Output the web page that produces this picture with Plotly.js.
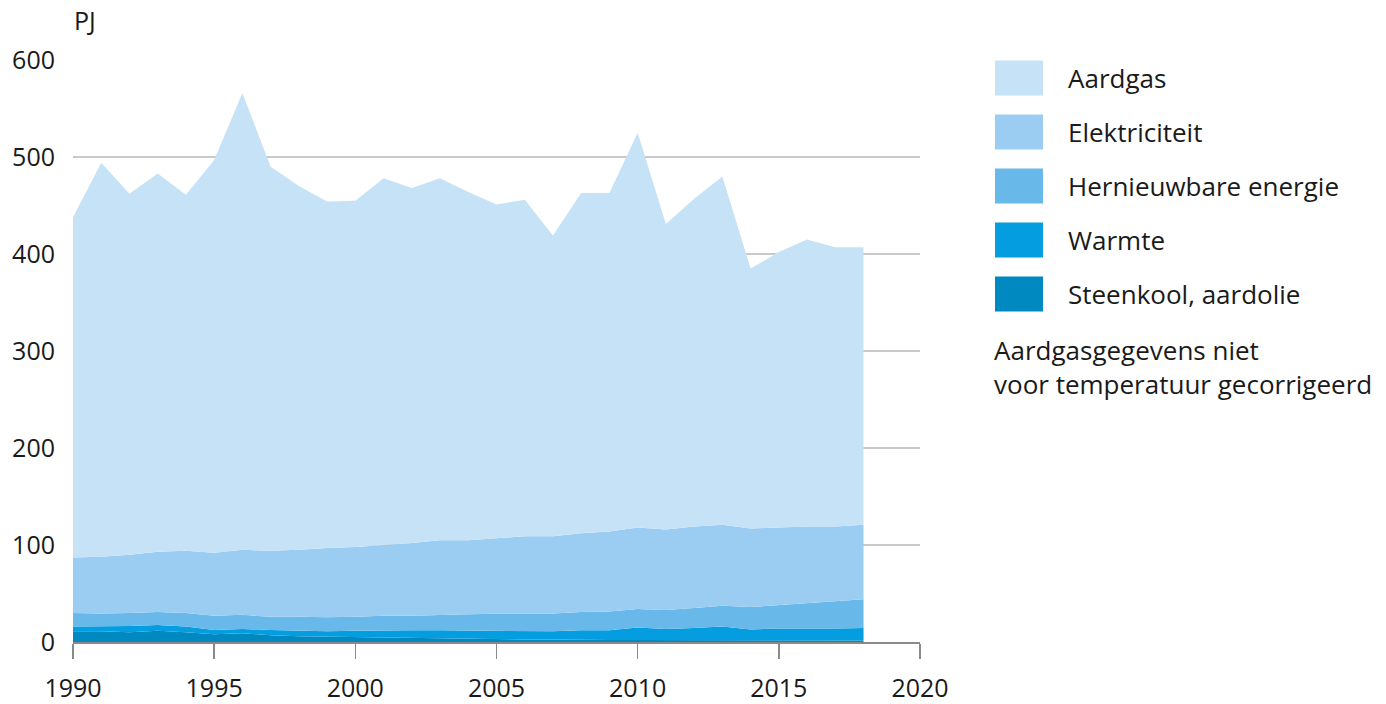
<!DOCTYPE html>
<html>
<head>
<meta charset="utf-8">
<script src="https://cdn.plot.ly/plotly-3.0.1.min.js"></script>
<style>
  html, body { margin: 0; padding: 0; background: #ffffff; }
  #chart { width: 1386px; height: 704px; }
</style>
</head>
<body>
<div id="chart"></div>
<script>
// Years
const years = [1990,1991,1992,1993,1994,1995,1996,1997,1998,1999,2000,2001,2002,2003,2004,2005,2006,2007,2008,2009,2010,2011,2012,2013,2014,2015,2016,2017,2018];

// Series values (PJ), individual layer contributions (stacked bottom -> top)
const steenkool = [11,11,10,11.5,10,8,9,7,6,5.5,5,4.5,4,3.5,3,3,2.5,2.5,2,2,2,2,1.5,1.5,1.5,1.5,1.5,1.5,1.5];
const warmte = [5,5,6.5,6,6,4.5,4.5,5.5,5.8,5.5,6.5,7.5,8,8.5,8.8,8.5,9,8.5,10,10,13,11.5,13,14.5,11.5,12.5,12.5,12.3,13];
const hernieuwbaar = [14,13.5,13.5,13.5,14,14.5,14.5,13.5,14.2,14.5,14.5,15,15,16,16.7,17.5,18,18.5,19,19.5,19,19.5,20.5,21.5,23,24,26,28.2,29.5];
const elektriciteit = [57,58.5,60,62,64,65,67,68,69,71.5,72,73,75,77,76.5,78,79.5,79.5,81,82.5,84,83,84,83.5,81,80,79,77,77];
const aardgas = [351,406,372,390,367,405,471,396,375,357,357,378,366,373,359,344,347,310,351,349,407,315,338,359,268,284,296,288,286];

// Legend / category labels (top to bottom as in legend)
const seriesNames = ["Aardgas", "Elektriciteit", "Hernieuwbare energie", "Warmte", "Steenkool, aardolie"];
const seriesColors = ["#c6e2f7", "#9bcdf2", "#68b8ea", "#049de0", "#0088c0"];
const seriesData = [aardgas, elektriciteit, hernieuwbaar, warmte, steenkool];

const yTicks = [0,100,200,300,400,500,600];
const xTicks = [1990,1995,2000,2005,2010,2015,2020];
const unitLabel = "PJ";
const noteText = "Aardgasgegevens niet<br>voor temperatuur gecorrigeerd";

const FONT = "Open Sans, Noto Sans, sans-serif";
const TXT = "#1a1a1a";

// Build traces bottom-up
const traces = [];
for (let i = seriesNames.length - 1; i >= 0; i--) {
  traces.push({
    type: "scatter",
    mode: "lines",
    name: seriesNames[i],
    x: years,
    y: seriesData[i],
    stackgroup: "one",
    line: { width: 0, color: seriesColors[i] },
    fillcolor: seriesColors[i],
    hoverinfo: "x+y+name"
  });
}

// Custom legend (large swatches)
const W = 847, H = 582; // plot area in px
const px2x = p => (p - 73) / W;
const px2y = p => (642 - p) / H;
const shapes = [];
const annotations = [];
const rowCenters = [78, 132, 186, 240, 294];
seriesNames.forEach((n, i) => {
  const c = rowCenters[i];
  shapes.push({
    type: "rect", xref: "paper", yref: "paper",
    x0: px2x(995), x1: px2x(1043), y0: px2y(c + 17.5), y1: px2y(c - 17.5),
    fillcolor: seriesColors[i], line: { width: 0 }
  });
  annotations.push({
    xref: "paper", yref: "paper", x: px2x(1066), y: px2y(c),
    xanchor: "left", yanchor: "middle", showarrow: false,
    text: n, font: { family: FONT, size: 26, color: TXT }
  });
});
annotations.push({
  xref: "paper", yref: "paper", x: px2x(992), y: px2y(367),
  xanchor: "left", yanchor: "middle", showarrow: false, align: "left",
  text: noteText, font: { family: FONT, size: 26, color: TXT }
});
annotations.push({
  xref: "paper", yref: "paper", x: px2x(72), y: px2y(20),
  xanchor: "left", yanchor: "middle", showarrow: false,
  text: unitLabel, font: { family: FONT, size: 25, color: TXT }
});

const layout = {
  width: 1386, height: 704,
  margin: { l: 73, r: 466, t: 60, b: 62, pad: 0 },
  paper_bgcolor: "#ffffff", plot_bgcolor: "#ffffff",
  showlegend: false,
  font: { family: FONT, size: 25, color: TXT },
  xaxis: {
    range: [1990, 2020],
    tickvals: xTicks,
    ticktext: xTicks.map(String),
    ticks: "outside", ticklen: 15, tickwidth: 1.5, tickcolor: "#8a8a8a",
    ticklabelstandoff: 8,
    showline: true, linecolor: "#8a8a8a", linewidth: 2,
    showgrid: false, zeroline: false,
    tickfont: { family: FONT, size: 25, color: TXT },
    fixedrange: true
  },
  yaxis: {
    range: [0, 600],
    tickvals: yTicks,
    ticktext: yTicks.map(String),
    ticks: "outside", ticklen: 12, tickcolor: "rgba(0,0,0,0)",
    showline: false,
    showgrid: true, gridcolor: "#c9c9c9", gridwidth: 1.5,
    zeroline: false,
    tickfont: { family: FONT, size: 25, color: TXT },
    fixedrange: true
  },
  shapes: shapes,
  annotations: annotations
};

Plotly.newPlot("chart", traces, layout, { displayModeBar: false, staticPlot: true });
</script>
</body>
</html>
